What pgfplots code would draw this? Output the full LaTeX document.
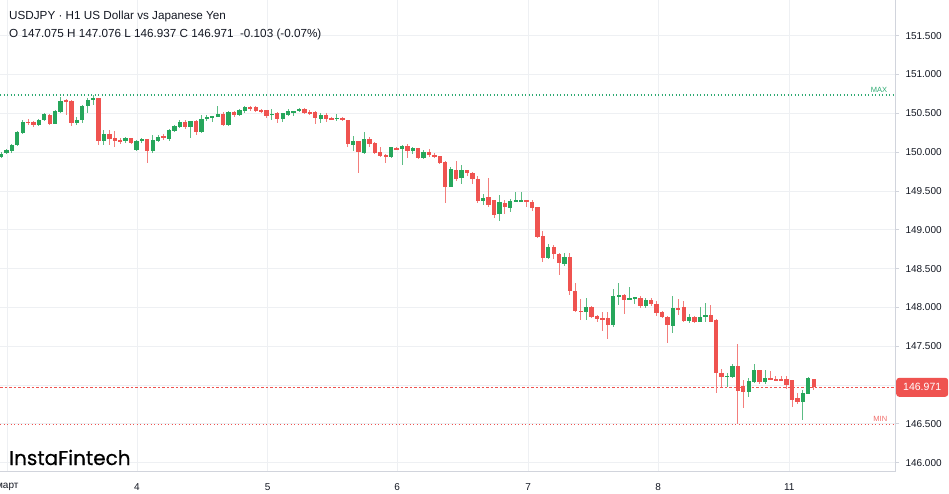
\documentclass[border=0pt]{standalone}
\usepackage{pgfplots}
\pgfplotsset{compat=1.18}
\usepackage{pgfplotstable}
\usepackage{fontspec}
\setmainfont{Liberation Sans}
\newfontfamily\logofont{Poppins}[FakeBold=0.45]

\definecolor{cgreen}{HTML}{26A65B}
\definecolor{cred}{HTML}{EF5350}
\definecolor{tvtext}{HTML}{131722}
\definecolor{tvgrid}{HTML}{EEF0F3}
\definecolor{tvborder}{HTML}{D1D4DC}
\definecolor{maxgreen}{HTML}{2EAA72}

% USDJPY H1 candles, k = hour index
\pgfplotstableread{
k o h l c
0 149.937 150.001 149.924 149.979
1 149.985 150.040 149.970 150.027
2 150.020 150.104 149.990 150.092
3 150.088 150.272 150.079 150.255
4 150.250 150.414 150.230 150.384
5 150.390 150.430 150.350 150.380
6 150.392 150.400 150.320 150.349
7 150.349 150.427 150.340 150.414
8 150.410 150.504 150.400 150.487
9 150.478 150.490 150.349 150.362
10 150.366 150.543 150.360 150.526
11 150.520 150.706 150.500 150.662
12 150.671 150.680 150.482 150.645
13 150.655 150.670 150.332 150.379
14 150.379 150.450 150.350 150.418
15 150.410 150.610 150.370 150.590
16 150.590 150.697 150.504 150.671
17 150.668 150.736 150.610 150.697
18 150.697 150.700 150.095 150.139
19 150.140 150.289 150.088 150.233
20 150.229 150.280 150.090 150.165
21 150.180 150.280 150.070 150.147
22 150.160 150.180 150.100 150.140
23 150.140 150.200 150.120 150.182
24 150.180 150.185 150.100 150.120
25 150.023 150.160 150.010 150.147
26 150.140 150.180 150.120 150.166
27 150.166 150.170 149.860 150.014
28 150.010 150.224 149.990 150.160
29 150.147 150.220 150.130 150.200
30 150.205 150.230 150.160 150.190
31 150.173 150.300 150.140 150.285
32 150.268 150.353 150.260 150.332
33 150.320 150.418 150.310 150.384
34 150.384 150.420 150.300 150.320
35 150.320 150.405 150.190 150.397
36 150.397 150.410 150.216 150.255
37 150.259 150.482 150.250 150.430
38 150.430 150.480 150.400 150.452
39 150.445 150.470 150.390 150.465
40 150.460 150.590 150.450 150.495
41 150.495 150.520 150.332 150.353
42 150.353 150.530 150.340 150.513
43 150.513 150.530 150.460 150.474
44 150.474 150.560 150.460 150.546
45 150.526 150.590 150.510 150.577
46 150.580 150.600 150.530 150.568
47 150.577 150.590 150.520 150.533
48 150.546 150.560 150.510 150.526
49 150.539 150.550 150.440 150.469
50 150.482 150.560 150.420 150.495
51 150.504 150.520 150.380 150.423
52 150.423 150.510 150.390 150.504
53 150.482 150.560 150.470 150.526
54 150.513 150.530 150.470 150.526
55 150.526 150.570 150.520 150.559
56 150.555 150.570 150.490 150.507
57 150.516 150.540 150.480 150.500
58 150.513 150.530 150.360 150.440
59 150.430 150.500 150.380 150.474
60 150.482 150.500 150.390 150.427
61 150.440 150.450 150.410 150.420
62 150.430 150.490 150.400 150.443
63 150.440 150.450 150.400 150.414
64 150.414 150.420 150.070 150.104
65 150.095 150.208 150.018 150.147
66 150.140 150.145 149.727 150.001
67 149.990 150.255 149.980 150.173
68 150.173 150.200 150.070 150.104
69 150.121 150.130 149.980 149.990
70 149.996 150.070 149.940 149.950
71 149.958 149.980 149.856 149.933
72 149.941 150.070 149.930 150.062
73 150.053 150.070 150.030 150.036
74 150.044 150.090 149.834 150.079
75 150.083 150.100 149.920 150.018
76 150.018 150.070 149.980 150.057
77 150.049 150.060 149.910 149.920
78 149.920 150.030 149.910 150.005
79 150.005 150.040 149.940 149.963
80 149.967 149.990 149.920 149.941
81 149.950 149.950 149.850 149.856
82 149.876 149.880 149.340 149.554
83 149.554 149.810 149.550 149.782
84 149.770 149.885 149.630 149.657
85 149.666 149.830 149.590 149.769
86 149.770 149.770 149.690 149.727
87 149.735 149.740 149.590 149.650
88 149.650 149.690 149.340 149.374
89 149.374 149.460 149.320 149.417
90 149.417 149.662 149.300 149.318
91 149.383 149.390 149.150 149.190
92 149.202 149.450 149.112 149.353
93 149.348 149.380 149.210 149.290
94 149.284 149.400 149.230 149.370
95 149.370 149.490 149.370 149.383
96 149.370 149.490 149.365 149.380
97 149.383 149.390 149.300 149.360
98 149.360 149.390 149.240 149.284
99 149.290 149.300 148.890 148.910
100 148.923 148.990 148.580 148.639
101 148.639 148.820 148.620 148.781
102 148.781 148.800 148.630 148.683
103 148.687 148.700 148.416 148.567
104 148.567 148.700 148.530 148.652
105 148.652 148.700 148.158 148.210
106 148.210 148.320 147.940 147.952
107 147.960 148.116 147.836 147.945
108 147.945 148.120 147.840 148.000
109 148.007 148.020 147.860 147.878
110 147.890 147.900 147.810 147.850
111 147.860 147.940 147.690 147.840
112 147.860 147.940 147.600 147.772
113 147.772 148.236 147.750 148.146
114 148.146 148.317 148.030 148.160
115 148.158 148.170 147.920 148.100
116 148.110 148.265 148.090 148.120
117 148.120 148.140 148.040 148.130
118 148.120 148.150 148.000 148.020
119 148.020 148.120 148.000 148.094
120 148.094 148.120 148.020 148.040
121 148.050 148.080 147.890 147.930
122 147.940 147.960 147.860 147.878
123 147.880 147.890 147.536 147.772
124 147.763 148.146 147.665 147.995
125 148.000 148.116 147.900 147.974
126 148.010 148.090 147.810 147.827
127 147.827 147.920 147.800 147.880
128 147.880 147.890 147.800 147.814
129 147.814 148.010 147.810 147.880
130 147.872 148.060 147.810 147.900
131 147.900 148.030 147.810 147.814
132 147.845 147.850 146.892 147.157
133 147.157 147.210 146.980 147.106
134 147.106 147.150 146.980 147.120
135 147.106 147.270 147.090 147.248
136 147.248 147.523 146.496 146.921
137 146.986 147.060 146.710 146.912
138 146.912 147.090 146.850 147.054
139 147.040 147.278 147.030 147.190
140 147.190 147.200 147.020 147.040
141 147.040 147.190 147.020 147.089
142 147.089 147.180 147.060 147.063
143 147.080 147.120 147.050 147.055
144 147.080 147.120 147.050 147.055
145 147.085 147.120 146.950 146.999
146 147.063 147.070 146.720 146.814
147 146.827 146.900 146.760 146.783
148 146.783 146.930 146.546 146.892
149 146.892 147.110 146.880 147.098
150 147.075 147.076 146.937 146.971
}\candles

\pgfplotsset{
  wick/.style={draw=none, no markers, forget plot,
    error bars/y dir=both, error bars/y explicit, error bars/error mark=none,
    error bars/error bar style={line width=0.9bp, draw=#1}},
  body/.style={draw=none, no markers, forget plot,
    error bars/y dir=both, error bars/y explicit, error bars/error mark=none,
    error bars/error bar style={line width=4.3bp, draw=#1}},
  up/.style={restrict expr to domain={\thisrow{c}-\thisrow{o}}{0:10}},
  down/.style={restrict expr to domain={\thisrow{c}-\thisrow{o}}{-10:-0.0001}},
}

\begin{document}
\begin{tikzpicture}
\useasboundingbox (0,0) rectangle (949bp,-494bp);
\begin{axis}[
  at={(0,0)}, anchor=north west,
  scale only axis, width=895bp, height=471.7bp,
  xmin=-0.185, xmax=165.0,
  ymin=145.884, ymax=151.96,
  axis x line*=bottom, axis y line*=right,
  axis line style={tvborder, line width=0.8bp},
  grid=major,
  major grid style={tvgrid, line width=0.8bp},
  xtick={1.16,25.1,49.2,73.1,97.3,121.3,145.5},
  xticklabels={март,4,5,6,7,8,11},
  xtick style={draw=none},
  xticklabel style={font=\fontsize{10bp}{12bp}\selectfont, text=tvtext, yshift=-4bp},
  ytick={146,146.5,147.5,148,148.5,149,149.5,150,150.5,151,151.5},
  extra y ticks={147}, extra y tick labels={},
  extra y tick style={grid=major},
  ytick style={tvborder, line width=0.8bp},
  tick align=outside, major tick length=4bp,
  scaled y ticks=false,
  yticklabel style={anchor=west, xshift=3bp, text=tvtext,
    font=\fontsize{10bp}{12bp}\selectfont,
    /pgf/number format/fixed, /pgf/number format/fixed zerofill,
    /pgf/number format/precision=3, /pgf/number format/1000 sep={},
    /pgf/number format/assume math mode=true},
]
  % reference lines
  \addplot[color=maxgreen, line width=1.1bp, dash pattern=on 1.1bp off 2.4bp, forget plot]
    coordinates {(-0.185,150.736) (165,150.736)};
  \addplot[color=cred, line width=1.1bp, dash pattern=on 1.1bp off 2.4bp, forget plot]
    coordinates {(-0.185,146.496) (165,146.496)};
  \addplot[color=cred, line width=1.1bp, dash pattern=on 2.5bp off 2bp, forget plot]
    coordinates {(-0.185,146.971) (165,146.971)};

  % wicks
  \addplot[up, wick=cgreen!75!white]
    table[x=k, y expr={(\thisrow{h}+\thisrow{l})/2}, y error expr={(\thisrow{h}-\thisrow{l})/2}] {\candles};
  \addplot[down, wick=cred!75!white]
    table[x=k, y expr={(\thisrow{h}+\thisrow{l})/2}, y error expr={(\thisrow{h}-\thisrow{l})/2}] {\candles};
  % bodies
  \addplot[up, body=cgreen]
    table[x=k, y expr={(\thisrow{o}+\thisrow{c})/2}, y error expr={max(abs(\thisrow{c}-\thisrow{o})/2,0.006)}] {\candles};
  \addplot[down, body=cred]
    table[x=k, y expr={(\thisrow{o}+\thisrow{c})/2}, y error expr={max(abs(\thisrow{c}-\thisrow{o})/2,0.006)}] {\candles};

  \node[anchor=south east, inner sep=0, text=maxgreen, font=\fontsize{7.5bp}{9bp}\selectfont]
    at (axis cs:163.6,150.736) [yshift=2.5bp] {MAX};
  \node[anchor=south east, inner sep=0, text=cred!85, font=\fontsize{7.5bp}{9bp}\selectfont]
    at (axis cs:163.6,146.496) [yshift=2.5bp] {MIN};
  \coordinate (pl) at (axis cs:165,146.971);
\end{axis}

\node[anchor=west, fill=cred, text=white, rounded corners=3bp, minimum width=52bp,
  minimum height=19bp, inner xsep=0, font=\fontsize{10.5bp}{12bp}\selectfont]
  at ([xshift=1bp]pl) {146.971};

\node[anchor=base west, inner sep=0, text=tvtext, font=\fontsize{11.7bp}{14bp}\selectfont]
  at (9bp,-19bp) {USDJPY · H1 US Dollar vs Japanese Yen};
\node[anchor=base west, inner sep=0, text=tvtext, font=\fontsize{11.7bp}{14bp}\selectfont]
  at (9bp,-37.5bp) {O 147.075 H 147.076 L 146.937 C 146.971 \ -0.103 (-0.07\%)};
\node[anchor=base west, inner sep=0, text=black, font=\logofont\fontsize{20bp}{24bp}\selectfont]
  at (9bp,-465bp) {InstaFintech};
\end{tikzpicture}
\end{document}
